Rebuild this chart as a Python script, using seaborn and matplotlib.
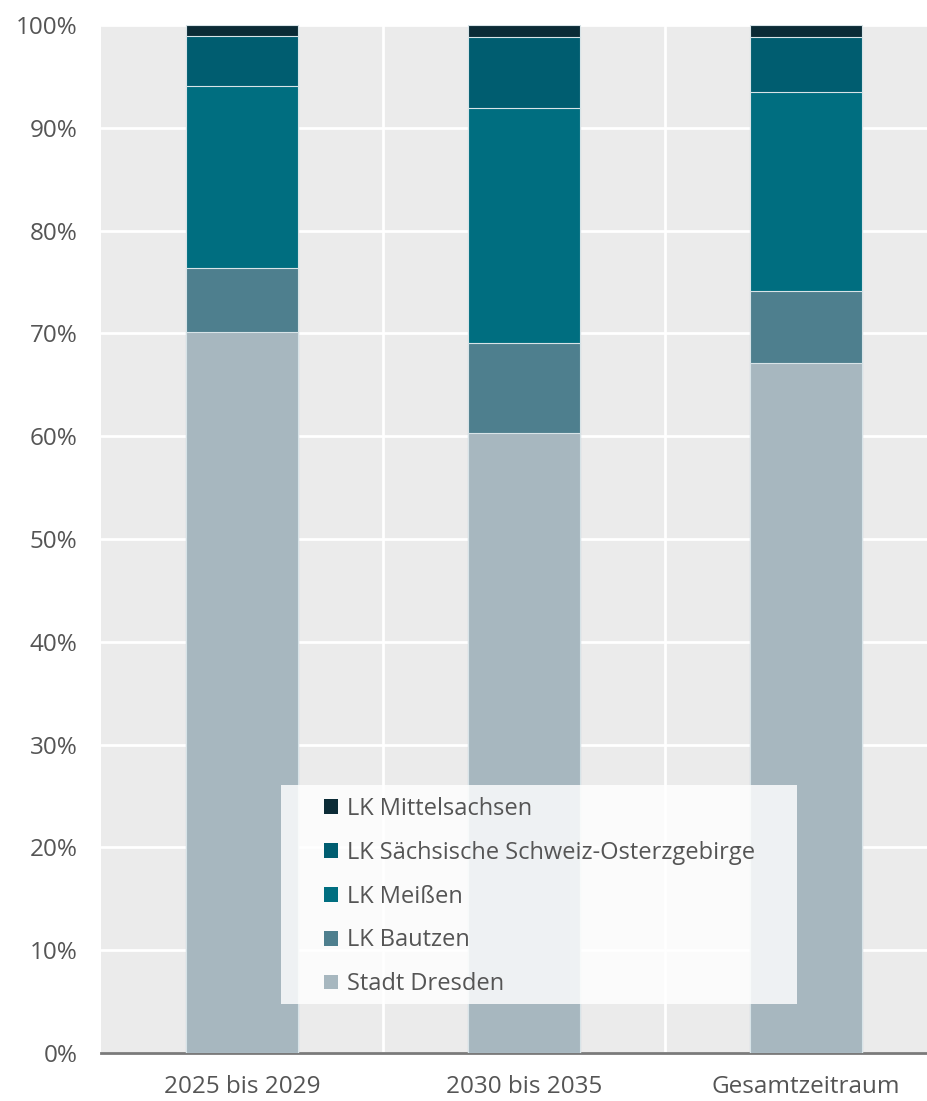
import numpy as np
import pandas as pd
import seaborn as sns
import matplotlib.pyplot as plt
from matplotlib.patches import Patch, Rectangle
from matplotlib.ticker import PercentFormatter

categories = ["2025 bis 2029", "2030 bis 2035", "Gesamtzeitraum"]
series_names = ["Stadt Dresden", "LK Bautzen", "LK Meißen",
                "LK Sächsische Schweiz-Osterzgebirge", "LK Mittelsachsen"]
stadt_dresden = [70.1, 60.3, 67.1]
lk_bautzen = [6.3, 8.8, 7.0]
lk_meissen = [17.7, 22.8, 19.4]
lk_sso = [4.8, 6.9, 5.3]
lk_mittelsachsen = [1.1, 1.2, 1.2]
colors = ["#a7b7bf", "#4e7f8e", "#006e80", "#005d70", "#0b2b36"]

sns.set_style("darkgrid", {"axes.facecolor": "#ebebeb", "grid.color": "white"})
plt.rcParams['font.family'] = ['Open Sans', 'DejaVu Sans']

df = pd.DataFrame({"Zeitraum": categories,
                   series_names[0]: stadt_dresden,
                   series_names[1]: lk_bautzen,
                   series_names[2]: lk_meissen,
                   series_names[3]: lk_sso,
                   series_names[4]: lk_mittelsachsen})
cum = df[series_names].cumsum(axis=1)

fig = plt.figure(figsize=(9.28, 11.01), dpi=100)
# plot area runs past the right edge of the picture, like the reference crop
ax = fig.add_axes([101 / 928, 48 / 1101, 846 / 928, 1028 / 1101])

# draw cumulative totals from the top down so the lower stacks overlay
for name, col in reversed(list(zip(series_names, colors))):
    sns.barplot(x=df["Zeitraum"], y=cum[name], color=col, width=0.395,
                saturation=1, edgecolor="#d8e4e8", linewidth=0.8, ax=ax, zorder=3)

ax.set_xlim(-0.5, 2.5)
ax.set_ylim(0, 100)
ax.set_yticks(np.arange(0, 101, 10))
ax.yaxis.set_major_formatter(PercentFormatter(decimals=0))
ax.set_xticks([0.5, 1.5], minor=True)
ax.grid(False, axis="x", which="major")
ax.grid(True, axis="x", which="minor", color="white", linewidth=2)
ax.grid(True, axis="y", which="major", color="white", linewidth=2)
ax.set_axisbelow(True)
ax.set_xlabel("")
ax.set_ylabel("")
ax.tick_params(axis="both", which="both", length=0, labelsize=17.5, labelcolor="#555555")
ax.tick_params(axis="x", pad=16)
ax.tick_params(axis="y", pad=17)
for s in ["top", "right", "left"]:
    ax.spines[s].set_visible(False)
ax.spines["bottom"].set_visible(True)
ax.spines["bottom"].set_color("#7a7a7a")
ax.spines["bottom"].set_linewidth(2)
for lbl in ax.get_yticklabels():
    lbl.set_horizontalalignment("right")

# translucent box behind the legend
x0 = lambda px: (px - 101) / 846
y0 = lambda py: (1053 - py) / 1028
ax.add_patch(Rectangle((x0(281), y0(1004)), 516 / 846, 219 / 1028,
                       transform=ax.transAxes, facecolor="white", alpha=0.82,
                       edgecolor="none", zorder=4))

handles = [Patch(facecolor=c, edgecolor="none", label=n)
           for n, c in reversed(list(zip(series_names, colors)))]
leg = ax.legend(handles=handles, loc="upper left",
                bbox_to_anchor=(x0(324), y0(797)),
                frameon=False, fontsize=17, labelcolor="#555555",
                handlelength=0.58, handleheight=0.58, handletextpad=0.4,
                labelspacing=0.84, borderpad=0, borderaxespad=0)
leg.set_zorder(5)

fig.savefig("out.png", dpi=100)
